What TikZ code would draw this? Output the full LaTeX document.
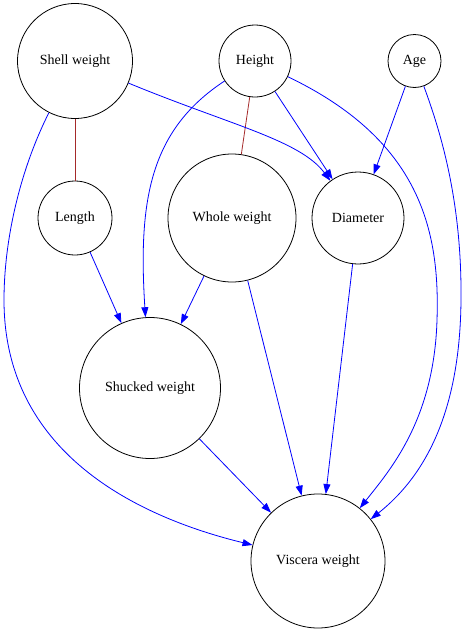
\documentclass[tikz,border=0pt]{standalone}
\usepackage{fontspec}
\setmainfont{Liberation Serif}
\usetikzlibrary{arrows.meta}
\definecolor{gvbrown}{RGB}{165,42,42}

\begin{document}
\begin{tikzpicture}[x=1pt,y=-1pt]
\tikzstyle{every node}=[draw,shape=circle,inner sep=0pt,line width=0.8pt,font=\fontsize{14}{16}\selectfont];
\tikzstyle{dep}=[blue,line width=0.8pt,-{Triangle[length=10pt,width=7pt]}];
\tikzstyle{corr}=[gvbrown,line width=0.8pt];
\useasboundingbox (0,0) rectangle (464,632);

% top row
\node[minimum size=115pt] (shell) at (75,61) {Shell weight};
\node[minimum size=72pt] (height) at (255,61) {Height};
\node[minimum size=53pt] (age) at (414.5,61) {Age};
% middle row
\node[minimum size=74pt] (length) at (75,218) {Length};
\node[minimum size=128pt] (whole) at (232,218) {Whole weight};
\node[minimum size=92pt] (diam) at (358,218) {Diameter};
% bottom
\node[minimum size=141pt] (shucked) at (150,388) {Shucked weight};
\node[minimum size=134pt] (viscera) at (318,561) {Viscera weight};

% undirected links
\draw[corr] (shell) -- (length);
\draw[corr] (height) -- (whole);

% straight arrows
\draw[dep] (height) -- (diam);
\draw[dep] (age) -- (diam);
\draw[dep] (length) -- (shucked);
\draw[dep] (whole) -- (shucked);
\draw[dep] (whole) -- (viscera);
\draw[dep] (diam) -- (viscera);
\draw[dep] (shucked) -- (viscera);

% curved arrows
\draw[dep] (shell) .. controls (230,125) and (300,140) .. (diam);
\draw[dep] (height) .. controls (150,130) and (138,200) .. (shucked);
\draw[dep] (shell) .. controls (20,170) and (4,240) .. (4,300)
  .. controls (4,460) and (150,520) .. (viscera);
\draw[dep] (height) .. controls (420,140) and (440,230) .. (437,320)
  .. controls (434,420) and (390,470) .. (viscera);
\draw[dep] (age) .. controls (440,130) and (462,200) .. (461,300)
  .. controls (460,420) and (420,480) .. (viscera);
\end{tikzpicture}
\end{document}
